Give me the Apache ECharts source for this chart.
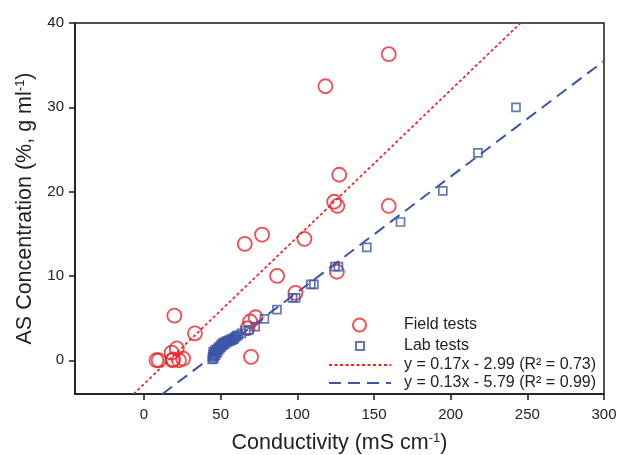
<!DOCTYPE html>
<html>
<head>
<meta charset="utf-8">
<script src="https://cdn.jsdelivr.net/npm/echarts@6/dist/echarts.min.js"></script>
<style>html,body{margin:0;padding:0;background:#fff;}#c{width:620px;height:455px;}</style>
</head>
<body>
<div id="c"></div>
<script>
// Field tests (red circles)
const fieldX = [159.6, 118.3, 127.3, 124.0, 126.1, 159.6, 77.0, 65.7, 104.6, 86.8, 125.8, 98.8, 19.8, 33.2, 69.2, 72.8, 67.5, 69.8, 8.1, 9.6, 18.0, 21.4, 19.0, 22.8, 25.5, 18.5];
const fieldY = [36.3, 32.5, 22.0, 18.8, 18.3, 18.3, 14.9, 13.8, 14.4, 10.0, 10.5, 8.0, 5.3, 3.2, 4.6, 5.1, 3.8, 0.4, 0.0, 0.0, 0.9, 1.4, 0.1, 0.0, 0.2, 0.0];
// Lab tests (blue squares)
const labX = [242.6, 217.8, 194.9, 167.3, 145.3, 124.5, 126.8, 108.8, 110.8, 96.9, 98.9, 86.7, 78.5, 72.5, 68.5, 66.3, 63.5, 61.5,
  44.5, 44.8, 45.0, 45.2, 45.5, 45.8, 46.0, 46.3, 46.7, 47.0, 47.4, 47.8, 48.2, 48.6, 49.0, 49.5, 50.0, 50.5, 51.0, 51.5, 52.0, 52.6, 53.2, 53.8, 54.4, 55.0, 55.6, 56.2, 56.8, 57.4, 58.0, 58.6, 59.2, 59.8, 60.5];
const labY = [30.0, 24.6, 20.1, 16.4, 13.4, 11.1, 11.1, 9.0, 9.0, 7.4, 7.4, 6.0, 4.9, 4.0, 3.6, 3.5, 3.2, 3.0,
  0.1, 0.4, 0.7, 1.0, 0.2, 0.5, 0.9, 1.2, 0.6, 1.0, 1.3, 0.9, 1.4, 1.2, 1.6, 1.4, 1.8, 1.6, 2.0, 1.8, 2.1, 1.9, 2.2, 2.1, 2.3, 2.2, 2.4, 2.3, 2.5, 2.4, 2.6, 2.5, 2.7, 2.8, 2.9];
// Fit lines (end points)
const fieldFitX = [-6.8, 245.6];
const fieldFitY = [-4, 40];
const labFitX = [12.0, 300];
const labFitY = [-4, 35.5];
// Axis ticks
const xTicks = [0, 50, 100, 150, 200, 250, 300];
const yTicks = [0, 10, 20, 30, 40];
const names = ['Field tests', 'Lab tests', 'y = 0.17x - 2.99 (R\u00B2 = 0.73)', 'y = 0.13x - 5.79 (R\u00B2 = 0.99)'];

const RED = '#e8232a';
const BLUE = '#3d56a6';
const TXT = '#222';
const FONT = '"Liberation Sans", Arial, sans-serif';

const zip = (a, b) => a.map((v, i) => [v, b[i]]);

const axisCommon = {
  type: 'value',
  axisLine: { show: true, onZero: false, lineStyle: { color: '#1a1a1a', width: 1.5 } },
  axisTick: { show: true, length: 6, lineStyle: { color: '#1a1a1a', width: 1.5 } },
  splitLine: { show: false },
  nameLocation: 'middle'
};
const richTitle = {
  a: { fontSize: 21.5, color: TXT, fontFamily: FONT },
  s: { fontSize: 13, color: TXT, fontFamily: FONT, verticalAlign: 'top' }
};
const legText = (pad) => ({ fontSize: 16, lineHeight: 14, color: TXT, padding: [0, 0, 0, pad], fontFamily: FONT });

const chart = echarts.init(document.getElementById('c'), null, { renderer: 'canvas' });
chart.setOption({
  animation: false,
  backgroundColor: '#fff',
  textStyle: { fontFamily: FONT },
  grid: { left: 75, right: 16, top: 23, bottom: 61, outerBoundsMode: 'none', containLabel: false,
    show: true, borderColor: '#1a1a1a', borderWidth: 1.5, backgroundColor: 'transparent' },
  xAxis: Object.assign({}, axisCommon, {
    min: -45, max: 300,
    axisTick: Object.assign({}, axisCommon.axisTick, { customValues: xTicks }),
    axisLabel: { customValues: xTicks, fontSize: 15, color: TXT, margin: 13, fontFamily: FONT },
    name: '{a|Conductivity (mS cm}{s|-1}{a|)}',
    nameGap: 38,
    nameTextStyle: { rich: richTitle }
  }),
  yAxis: Object.assign({}, axisCommon, {
    min: -4, max: 40,
    axisTick: Object.assign({}, axisCommon.axisTick, { customValues: yTicks }),
    axisLabel: { customValues: yTicks, fontSize: 15, color: TXT, margin: 11, fontFamily: FONT },
    name: '{a|AS Concentration (%, g ml}{s|-1}{a|)}',
    nameGap: 38,
    nameTextStyle: { rich: richTitle }
  }),
  legend: [
    { data: [{ name: names[0], icon: 'circle' }], left: 352, top: 317, padding: 0, itemWidth: 13, itemHeight: 13,
      textStyle: legText(33), selectedMode: false },
    { data: [{ name: names[1], icon: 'rect' }], left: 355, top: 338, padding: 0, itemWidth: 8, itemHeight: 8,
      textStyle: legText(35), selectedMode: false },
    { data: [{ name: names[2], itemStyle: { opacity: 0 } }, { name: names[3], itemStyle: { opacity: 0 } }],
      orient: 'vertical', left: 328, top: 357, padding: 0, itemWidth: 62, itemHeight: 14, itemGap: 2,
      textStyle: legText(8), selectedMode: false }
  ],
  series: [
    { name: names[2], type: 'line', data: zip(fieldFitX, fieldFitY), symbol: 'none', z: 1,
      lineStyle: { color: RED, width: 1.7, type: [3, 2.5] }, itemStyle: { color: RED } },
    { name: names[3], type: 'line', data: zip(labFitX, labFitY), symbol: 'none', z: 1,
      lineStyle: { color: BLUE, width: 2, type: [12, 7] }, itemStyle: { color: BLUE } },
    { name: names[0], type: 'scatter', data: zip(fieldX, fieldY), symbol: 'circle', symbolSize: 14, z: 2,
      itemStyle: { color: 'rgba(255,255,255,0)', borderColor: RED, borderWidth: 1.8 } },
    { name: names[1], type: 'scatter', data: zip(labX, labY), symbol: 'rect', symbolSize: 8, z: 3,
      itemStyle: { color: 'rgba(255,255,255,0)', borderColor: BLUE, borderWidth: 1.7 } }
  ]
});
</script>
</body>
</html>
